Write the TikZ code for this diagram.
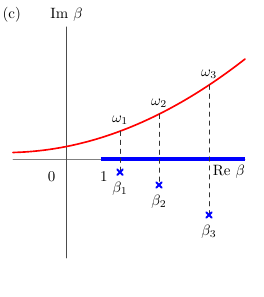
\documentclass[tikz,border=0pt]{standalone}
\usetikzlibrary{positioning}
\begin{document}
\begin{tikzpicture}[>=stealth, line join=round, line cap=round]
				\useasboundingbox (-1.565,-3.247) rectangle (4.624,3.741);
				\draw [gray] (-1.26,0)--(4.2,0);
				\draw [black!70] (0,-2.33)--(0,3.11);
				\draw [blue, line width=2.4pt, line cap=butt] (0.81,0)--(4.2,0);
				\draw [red, line width=1.1pt] plot[domain=-1.26:4.2, samples=60] (\x,{0.294+0.199*\x+0.0693*\x*\x});
				\path (-1.29,3.39) node (c) {(c)} (0,3.39) node (im) {Im $\beta$} (3.82,-0.29) node (re) {Re $\beta$};
				\path (-0.35,-0.42) node (zero) {$0$} (0.88,-0.42) node (one) {$1$};
				\foreach \i/\x/\y in {1/1.259/-0.31, 2/2.176/-0.612, 3/3.353/-1.318} {
					\coordinate (w\i) at (\x,{0.294+0.199*\x+0.0693*\x*\x});
					\coordinate (b\i) at (\x,\y);
					\draw [dashed, black!80] (w\i)--(b\i);
					\draw [blue, line width=1.3pt] (b\i)++(-0.065,-0.065)--++(0.13,0.13) (b\i)++(-0.065,0.065)--++(0.13,-0.13);
					\node [above=1pt] (wl\i) at (w\i) {$\omega_\i$};
					\node [below=3pt] (bl\i) at (b\i) {$\beta_\i$};
				}
			\end{tikzpicture}
\end{document}
